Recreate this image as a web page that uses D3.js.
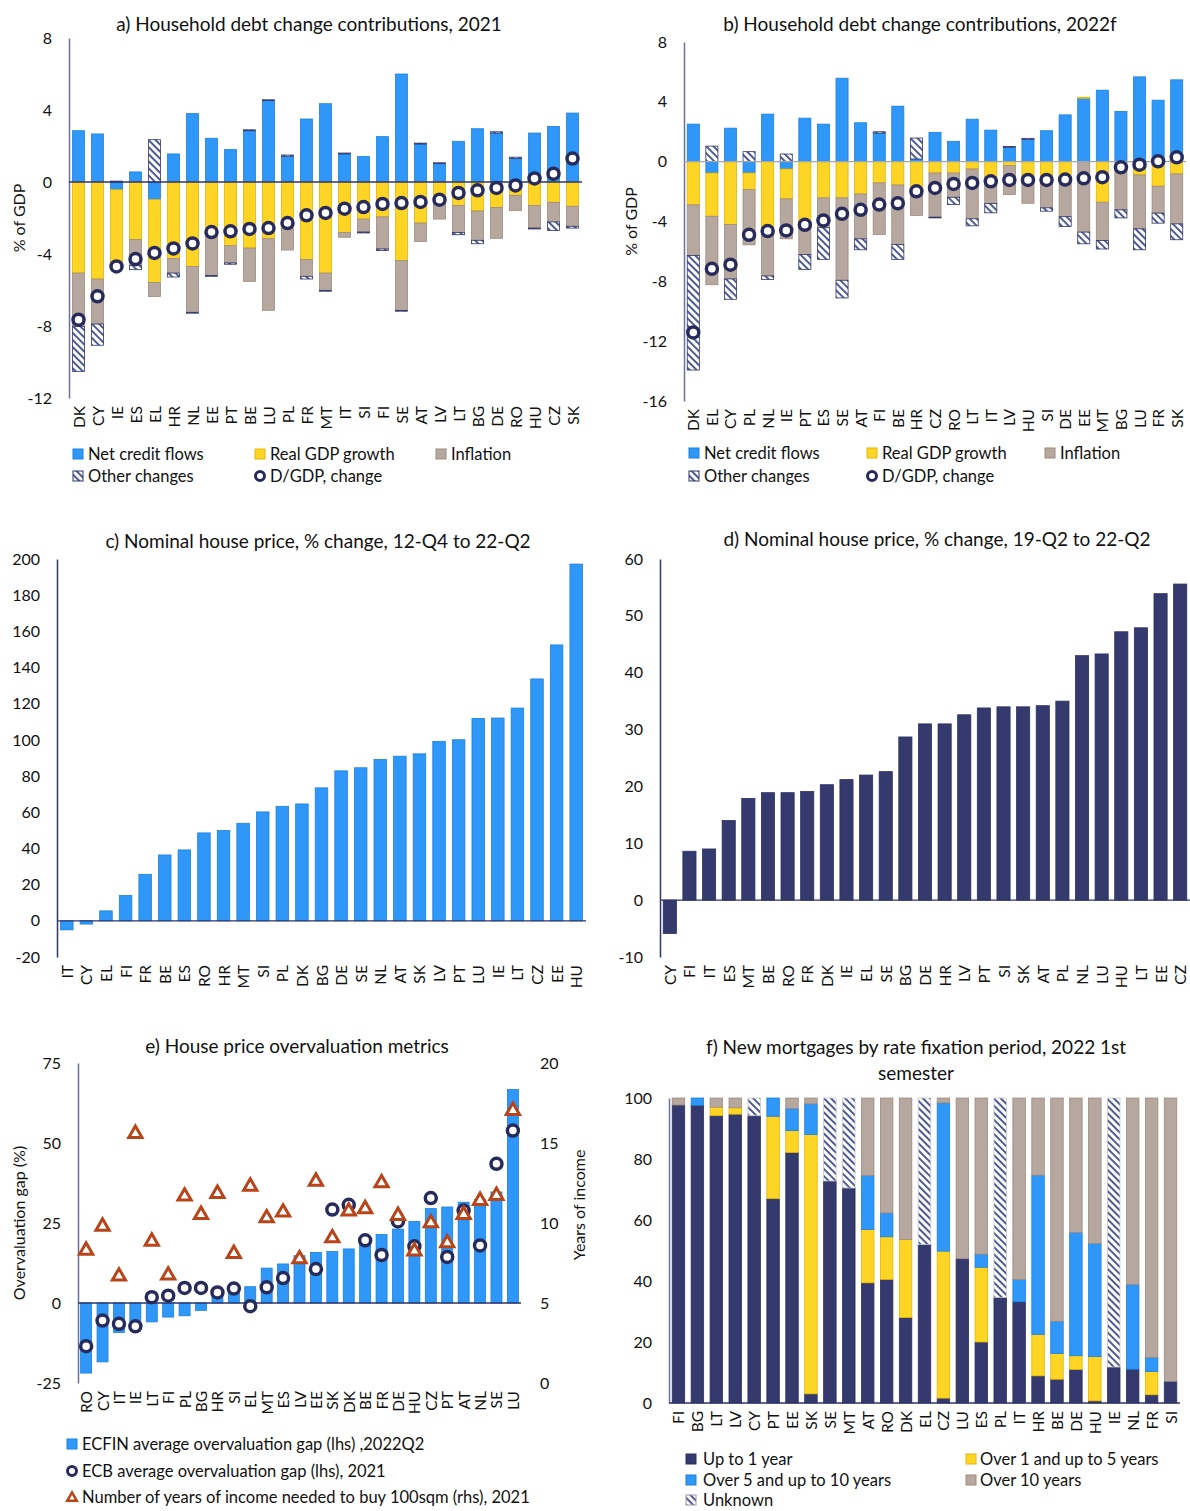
<!DOCTYPE html>
<html><head><meta charset="utf-8">
<script src="https://cdn.jsdelivr.net/npm/d3@7"></script>
<style>
body{margin:0;background:#fff;}
svg text{font-family:Lato,"Open Sans","Liberation Sans",sans-serif;}
</style></head><body>
<svg id="chart" width="1190" height="1511"></svg>
<script>
// ---------- DATA ----------
const aCats = ["DK","CY","IE","ES","EL","HR","NL","EE","PT","BE","LU","PL","FR","MT","IT","SI","FI","SE","AT","LV","LT","BG","DE","RO","HU","CZ","SK"];
const aCredit = [2.85,2.67,-0.43,0.56,-0.98,1.56,3.8,2.43,1.8,2.85,4.52,1.43,3.5,4.35,1.56,1.41,2.52,6.0,2.11,1.02,2.26,2.96,2.72,1.31,2.72,3.09,3.83];
const aGdp = [-5.06,-5.39,-4.27,-3.2,-4.6,-4.26,-4.69,-2.83,-3.54,-3.67,-3.15,-2.6,-4.31,-5.06,-2.8,-2.06,-1.94,-4.37,-2.28,-1.07,-1.3,-1.61,-1.41,-0.74,-1.31,-1.13,-1.35];
const aInfl = [-2.96,-2.5,0,-1.45,-0.78,-0.8,-2.55,-2.36,-0.96,-1.85,-3.98,-1.18,-0.93,-0.96,-0.27,-0.72,-1.78,-2.76,-1.02,-0.99,-1.5,-1.63,-1.72,-0.85,-1.25,-1.09,-1.11];
const aOther = [-2.5,-1.18,0.05,-0.22,2.35,-0.22,-0.05,-0.05,-0.07,0.05,0.05,0.07,-0.15,-0.05,0.05,-0.05,-0.09,-0.05,0.05,0.05,-0.13,-0.19,0.07,0.07,-0.05,-0.47,-0.1];
const aDgdp = [-7.65,-6.35,-4.69,-4.28,-3.94,-3.69,-3.41,-2.78,-2.74,-2.61,-2.56,-2.28,-1.85,-1.72,-1.48,-1.39,-1.22,-1.17,-1.11,-0.98,-0.61,-0.46,-0.33,-0.19,0.2,0.46,1.3];

const bCats = ["DK","EL","CY","PL","NL","IE","PT","ES","SE","AT","FI","BE","HR","CZ","RO","LT","IT","LV","HU","SI","DE","EE","MT","BG","LU","FR","SK"];
const bCredit = [2.51,-0.76,2.24,-0.76,3.18,-0.49,2.91,2.51,5.58,2.6,1.91,3.71,0.18,1.96,1.36,2.84,2.11,0.96,1.49,2.07,3.13,4.24,4.78,3.36,5.67,4.11,5.47];
const bGdp = [-2.89,-2.89,-4.2,-1.11,-4.38,-2.0,-4.0,-2.42,-2.42,-2.16,-1.42,-1.56,-1.8,-0.76,-0.76,-0.49,-1.0,-0.27,-1.0,-1.04,-1.0,0.07,-2.71,-0.05,-0.89,-1.64,-0.82];
const bInfl = [-3.38,-4.58,-3.64,-3.69,-3.26,-2.67,-2.2,-2.0,-5.51,-3.0,-3.45,-3.97,-1.8,-2.95,-1.62,-3.33,-1.8,-1.93,-1.78,-2.05,-2.68,-4.71,-2.56,-3.17,-3.6,-1.8,-3.34];
const bOther = [-7.66,1.04,-1.36,0.67,-0.23,0.51,-1.0,-2.11,-1.18,-0.73,0.09,-1.0,1.4,-0.05,-0.49,-0.47,-0.62,0.05,0.07,-0.22,-0.65,-0.78,-0.57,-0.54,-1.4,-0.67,-1.06];
const bDgdp = [-11.42,-7.16,-6.89,-4.89,-4.64,-4.6,-4.22,-3.93,-3.49,-3.22,-2.87,-2.78,-1.98,-1.76,-1.49,-1.42,-1.31,-1.22,-1.22,-1.22,-1.2,-1.11,-1.04,-0.38,-0.2,0.02,0.29];

const cCats = ["IT","CY","EL","FI","FR","BE","ES","RO","HR","MT","SI","PL","DK","BG","DE","SE","NL","AT","SK","LV","PT","LU","IE","LT","CZ","EE","HU"];
const cVals = [-5.0,-1.8,5.5,14.0,25.7,36.4,39.2,48.6,49.9,53.9,60.2,63.3,64.6,73.5,82.9,84.6,89.2,91.0,92.3,99.2,100.1,111.9,112.1,117.6,133.7,152.5,197.2];

const dCats = ["CY","FI","IT","ES","MT","BE","RO","FR","DK","IE","EL","SE","BG","DE","HR","LV","PT","SI","SK","AT","PL","NL","LU","HU","LT","EE","CZ"];
const dVals = [-5.87,8.6,9.0,14.0,17.9,18.9,18.9,19.1,20.3,21.2,22.0,22.6,28.7,31.0,31.0,32.6,33.8,34.0,34.0,34.2,35.0,43.0,43.3,47.2,47.9,53.9,55.6];

const eCats = ["RO","CY","IT","IE","LT","FI","PL","BG","HR","SI","EL","MT","ES","LV","EE","SK","DK","BE","FR","DE","HU","CZ","PT","AT","NL","SE","LU"];
const eEcfin = [-21.9,-18.4,-9.2,-6.5,-5.9,-4.4,-4.0,-2.3,2.8,4.2,5.1,10.9,12.2,14.8,15.8,16.1,16.9,19.8,21.4,23.1,25.5,29.5,30.0,31.5,32.3,34.7,66.7];
const eEcb = [-13.5,-5.5,-6.5,-7.3,1.8,2.3,4.7,4.7,3.3,4.5,-1.0,4.9,7.8,null,10.6,29.2,30.7,19.6,15.0,25.5,17.7,32.8,14.4,28.9,18.0,43.5,53.9];
const eYears = [8.29,9.79,6.67,15.58,8.85,6.73,11.67,10.52,11.83,8.08,12.29,10.31,10.67,7.75,12.6,9.06,10.73,10.88,12.5,10.46,8.23,10.0,8.75,10.52,11.4,11.71,17.02];

const fCats = ["FI","BG","LT","LV","CY","PT","EE","SK","SE","MT","AT","RO","DK","EL","CZ","LU","ES","PL","IT","HR","BE","DE","HU","IE","NL","FR","SI"];
const fUpTo1 = [97.7,97.6,94.2,94.7,94.2,67.0,82.1,3.0,72.8,70.5,39.4,40.5,28.0,52.0,1.6,47.3,20.0,34.6,33.2,8.9,7.8,11.0,0.7,11.8,11.1,2.7,7.1];
const f1to5 = [0,0,2.8,2.1,0,27.0,7.2,85.0,0,0,17.5,14.0,25.6,0,48.2,0,24.5,0,0,13.6,8.4,4.5,14.5,0,0,7.6,0];
const f5to10 = [0,2.4,0,0,0,6.0,7.3,10.1,0,0,17.7,7.8,0,0,48.6,0,4.3,0,7.3,52.2,10.6,40.4,37.1,0,27.7,4.6,0];
const fOver10 = [2.3,0,3.0,3.2,0,0,3.4,1.9,0,0,25.4,37.7,46.4,0,1.6,52.7,51.2,0,59.5,25.3,73.2,44.1,47.7,0,61.2,85.1,92.9];
const fUnknown = [0,0,0,0,5.8,0,0,0,27.2,29.5,0,0,0,48.0,0,0,0,65.4,0,0,0,0,0,88.2,0,0,0];

const abLegend = ["Net credit flows","Real GDP growth","Inflation","Other changes","D/GDP, change"];
const eLegend = ["ECFIN average overvaluation gap (lhs) ,2022Q2","ECB average overvaluation gap (lhs), 2021","Number of years of income needed to buy 100sqm (rhs), 2021"];
const fLegend = ["Up to 1 year","Over 1 and up to 5 years","Over 5 and up to 10 years","Over 10 years","Unknown"];

// ---------- STYLE ----------
const COL = {blue:'#2E97F7', blueS:'#1C80DF', yellow:'#FFD525', yellowS:'#E3B600', taupe:'#B7A89F', taupeS:'#9C8A7F',
  navy:'#353A6E', dot:'#272B5B', tri:'#B8441A', axis:'#6E729A', zero:'#2F3567'};
const svg = d3.select('#chart');
const FONT = 'Lato, "Open Sans", sans-serif';
const FS = {title:19, tick:16, cat:15.5, leg:16.5, ylab:16};
const defs = svg.append('defs');
const pat = defs.append('pattern').attr('id','hatch').attr('patternUnits','userSpaceOnUse')
  .attr('width',5).attr('height',5).attr('patternTransform','rotate(-45)');
pat.append('rect').attr('width',5).attr('height',5).attr('fill','#ffffff');
pat.append('rect').attr('width',2).attr('height',5).attr('fill','#4E5B96');

function title(lines, cx, cy){
  lines.forEach((t,i)=>svg.append('text').attr('x',cx).attr('y',cy+i*26).attr('text-anchor','middle')
    .attr('dominant-baseline','central').attr('font-size',FS.title).attr('fill','#111').text(t));
}
function yAxis(y, x0, ticks, color){
  const g = svg.append('g').attr('transform',`translate(${x0},0)`)
    .call(d3.axisLeft(y).tickValues(ticks).tickSize(0).tickPadding(17).tickFormat(d=>String(d)));
  g.attr('font-family',FONT);
  g.select('.domain').attr('stroke',color||COL.axis).attr('stroke-width',1.5);
  g.selectAll('text').attr('font-size',FS.tick).attr('fill','#111');
}
function yLabel(t, x, cy){
  svg.append('text').attr('transform',`translate(${x},${cy}) rotate(-90)`).attr('text-anchor','middle')
    .attr('dominant-baseline','central').attr('font-size',FS.ylab).attr('fill','#111').text(t);
}
function xLabels(x, cats, yTop){
  svg.append('g').selectAll('text').data(cats).join('text')
    .attr('transform',d=>`translate(${x(d)+x.bandwidth()/2},${yTop}) rotate(-90)`)
    .attr('text-anchor','end').attr('dominant-baseline','central').attr('font-size',FS.cat).attr('fill','#111').text(d=>d);
}
function zeroLine(x, y, color, v){
  svg.append('line').attr('x1',x.range()[0]).attr('x2',x.range()[1]).attr('y1',y(v||0)).attr('y2',y(v||0))
    .attr('stroke',color).attr('stroke-width',1.3);
}
function legSquare(x, cy, fill, stroke){
  svg.append('rect').attr('x',x).attr('y',cy-5).attr('width',10).attr('height',10).attr('fill',fill).attr('stroke',stroke).attr('stroke-width',1);
}
function legText(x, cy, t){
  svg.append('text').attr('x',x).attr('y',cy).attr('dominant-baseline','central').attr('font-size',FS.leg).attr('fill','#111').text(t);
}
function legCircle(cx, cy){
  svg.append('circle').attr('cx',cx).attr('cy',cy).attr('r',4.5).attr('fill','#fff').attr('stroke',COL.dot).attr('stroke-width',3);
}

// ---------- PANELS a & b ----------
function debtPanel(cfg){
  const x = d3.scaleBand().domain(cfg.cats).range(cfg.xr).paddingInner(cfg.pad).paddingOuter(cfg.pad/2);
  const y = d3.scaleLinear().domain(cfg.yd).range(cfg.yr);
  const rows = cfg.cats.map((c,i)=>({cat:c, credit:cfg.credit[i], gdp:cfg.gdp[i], infl:cfg.infl[i], other:cfg.other[i]}));
  const keys = ['credit','gdp','infl','other'];
  const fills = {credit:COL.blue, gdp:COL.yellow, infl:COL.taupe, other:'url(#hatch)'};
  const strokes = {credit:COL.blueS, gdp:COL.yellowS, infl:COL.taupeS, other:'#2F3567'};
  const series = d3.stack().keys(keys).offset(d3.stackOffsetDiverging)(rows);
  title([cfg.title], cfg.tx, cfg.ty);
  yAxis(y, cfg.xr[0], cfg.ticks);
  yLabel('% of GDP', cfg.ylx, (cfg.yr[0]+cfg.yr[1])/2);
  series.forEach(s=>{
    svg.append('g').selectAll('rect').data(s).join('rect')
      .attr('x',d=>x(d.data.cat)).attr('width',x.bandwidth())
      .attr('y',d=>y(Math.max(d[0],d[1]))).attr('height',d=>Math.abs(y(d[0])-y(d[1])))
      .attr('fill',fills[s.key]).attr('stroke',strokes[s.key]).attr('stroke-width',0.8);
  });
  zeroLine(x, y, cfg.zero);
  svg.append('g').selectAll('circle').data(cfg.cats).join('circle')
    .attr('cx',d=>x(d)+x.bandwidth()/2).attr('cy',(d,i)=>y(cfg.dgdp[i])).attr('r',5.5)
    .attr('fill','#fff').attr('stroke',COL.dot).attr('stroke-width',3.5);
  xLabels(x, cfg.cats, cfg.yr[0]+8);
  const L = cfg.leg;
  legSquare(L[0], L[3], COL.blue, COL.blueS); legText(L[0]+15, L[3], abLegend[0]);
  legSquare(L[1], L[3], COL.yellow, COL.yellowS); legText(L[1]+15, L[3], abLegend[1]);
  legSquare(L[2], L[3], COL.taupe, COL.taupeS); legText(L[2]+15, L[3], abLegend[2]);
  legSquare(L[0], L[4], 'url(#hatch)', '#2F3567'); legText(L[0]+15, L[4], abLegend[3]);
  legCircle(L[1]+5, L[4]); legText(L[1]+15, L[4], abLegend[4]);
}
debtPanel({cats:aCats, credit:aCredit, gdp:aGdp, infl:aInfl, other:aOther, dgdp:aDgdp,
  xr:[69,582], yd:[-12,8], yr:[398,38], ticks:[-12,-8,-4,0,4,8], pad:0.37, zero:COL.zero,
  title:'a) Household debt change contributions, 2021', tx:309, ty:23, ylx:18, leg:[73,255,436,454,476]});
debtPanel({cats:bCats, credit:bCredit, gdp:bGdp, infl:bInfl, other:bOther, dgdp:bDgdp,
  xr:[684,1186], yd:[-16,8], yr:[401,42], ticks:[-16,-12,-8,-4,0,4,8], pad:0.35, zero:'#A6A6A6',
  title:'b) Household debt change contributions, 2022f', tx:920, ty:23, ylx:630, leg:[689,867,1045,453,476]});

// ---------- PANELS c & d ----------
function simpleBars(cfg){
  const x = d3.scaleBand().domain(cfg.cats).range(cfg.xr).paddingInner(cfg.pad).paddingOuter(cfg.pad/2);
  const y = d3.scaleLinear().domain(cfg.yd).range(cfg.yr);
  title([cfg.title], cfg.tx, cfg.ty);
  yAxis(y, cfg.xr[0], cfg.ticks, COL.zero);
  svg.append('g').selectAll('rect').data(cfg.vals).join('rect')
    .attr('x',(d,i)=>x(cfg.cats[i])).attr('width',x.bandwidth())
    .attr('y',d=>y(Math.max(0,d))).attr('height',d=>Math.abs(y(d)-y(0)))
    .attr('fill',cfg.fill).attr('stroke',cfg.stroke).attr('stroke-width',0.8);
  zeroLine(x, y, COL.zero);
  xLabels(x, cfg.cats, cfg.yr[0]+8);
}
simpleBars({cats:cCats, vals:cVals, xr:[57,586], yd:[-20,200], yr:[957,559], ticks:d3.range(-20,201,20), pad:0.36,
  fill:COL.blue, stroke:COL.blueS, title:'c) Nominal house price, % change, 12-Q4 to 22-Q2', tx:318, ty:540});
simpleBars({cats:dCats, vals:dVals, xr:[660,1190], yd:[-10,60], yr:[957,559], ticks:d3.range(-10,61,10), pad:0.33,
  fill:COL.navy, stroke:'#2C3060', title:'d) Nominal house price, % change, 19-Q2 to 22-Q2', tx:937, ty:538});

// ---------- PANEL e ----------
(function(){
  const x = d3.scaleBand().domain(eCats).range([78,521]).paddingInner(0.33).paddingOuter(0.16);
  const yL = d3.scaleLinear().domain([-25,75]).range([1383,1063]);
  const yR = d3.scaleLinear().domain([0,20]).range([1383,1063]);
  title(['e) House price overvaluation metrics'], 297, 1045);
  yAxis(yL, 78, [-25,0,25,50,75]);
  const g = svg.append('g').attr('transform','translate(523,0)')
    .call(d3.axisRight(yR).tickValues([0,5,10,15,20]).tickSize(0).tickPadding(17).tickFormat(d=>String(d)));
  g.attr('font-family',FONT); g.select('.domain').remove();
  g.selectAll('text').attr('font-size',FS.tick).attr('fill','#111');
  yLabel('Overvaluation gap (%)', 18, 1223);
  yLabel('Years of income', 578, 1205);
  svg.append('g').selectAll('rect').data(eEcfin).join('rect')
    .attr('x',(d,i)=>x(eCats[i])).attr('width',x.bandwidth())
    .attr('y',d=>yL(Math.max(0,d))).attr('height',d=>Math.abs(yL(d)-yL(0)))
    .attr('fill',COL.blue).attr('stroke',COL.blueS).attr('stroke-width',0.8);
  zeroLine(x, yL, COL.zero);
  svg.append('g').selectAll('circle').data(eCats.filter((c,i)=>eEcb[i]!==null)).join('circle')
    .attr('cx',d=>x(d)+x.bandwidth()/2).attr('cy',d=>yL(eEcb[eCats.indexOf(d)])).attr('r',5.5)
    .attr('fill','#fff').attr('stroke',COL.dot).attr('stroke-width',3.5);
  const tri = d3.symbol(d3.symbolTriangle).size(75);
  svg.append('g').selectAll('path').data(eCats).join('path')
    .attr('transform',(d,i)=>`translate(${x(d)+x.bandwidth()/2},${yR(eYears[i])})`).attr('d',tri)
    .attr('fill','#fff').attr('stroke',COL.tri).attr('stroke-width',3).attr('stroke-linejoin','miter');
  xLabels(x, eCats, 1391);
  legSquare(67, 1444, COL.blue, COL.blueS); legText(82, 1444, eLegend[0]);
  legCircle(72, 1471); legText(82, 1471, eLegend[1]);
  svg.append('path').attr('transform','translate(72,1498)').attr('d',d3.symbol(d3.symbolTriangle).size(40))
    .attr('fill','#fff').attr('stroke',COL.tri).attr('stroke-width',2.5);
  legText(82, 1497, eLegend[2]);
})();

// ---------- PANEL f ----------
(function(){
  const x = d3.scaleBand().domain(fCats).range([669,1180]).paddingInner(0.34).paddingOuter(0.17);
  const y = d3.scaleLinear().domain([0,100]).range([1403,1098]);
  title(['f) New mortgages by rate fixation period, 2022 1st','semester'], 916, 1046);
  yAxis(y, 669, [0,20,40,60,80,100]);
  const rows = fCats.map((c,i)=>({cat:c, a:fUpTo1[i], b:f1to5[i], c:f5to10[i], d:fOver10[i], e:fUnknown[i]}));
  const fills = {a:COL.navy, b:COL.yellow, c:COL.blue, d:COL.taupe, e:'url(#hatch)'};
  const strokes = {a:'#2C3060', b:COL.yellowS, c:COL.blueS, d:COL.taupeS, e:'#C9C9C9'};
  const series = d3.stack().keys(['a','b','c','d','e'])(rows);
  series.forEach(s=>{
    svg.append('g').selectAll('rect').data(s.filter(d=>d[1]-d[0]>0)).join('rect')
      .attr('x',d=>x(d.data.cat)).attr('width',x.bandwidth())
      .attr('y',d=>y(d[1])).attr('height',d=>y(d[0])-y(d[1]))
      .attr('fill',fills[s.key]).attr('stroke',strokes[s.key]).attr('stroke-width',0.8);
  });
  zeroLine(x, y, COL.zero);
  xLabels(x, fCats, 1411);
  legSquare(686, 1459, COL.navy, '#2C3060'); legText(703, 1459, fLegend[0]);
  legSquare(966, 1459, COL.yellow, COL.yellowS); legText(980, 1459, fLegend[1]);
  legSquare(686, 1480, COL.blue, COL.blueS); legText(703, 1480, fLegend[2]);
  legSquare(966, 1480, COL.taupe, COL.taupeS); legText(980, 1480, fLegend[3]);
  legSquare(686, 1500, 'url(#hatch)', '#999'); legText(703, 1500, fLegend[4]);
})();
</script>
</body></html>
